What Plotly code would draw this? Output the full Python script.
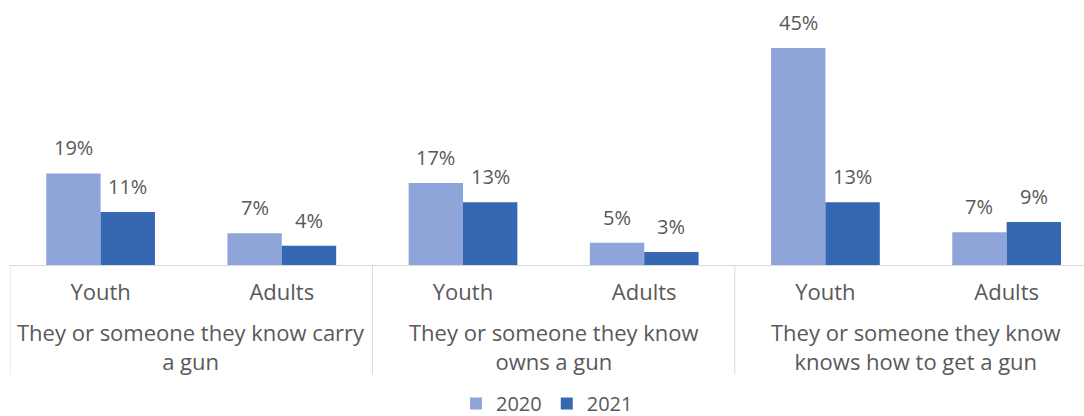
import plotly.graph_objects as go

subgroups = ["Youth", "Adults", "Youth", "Adults", "Youth", "Adults"]
groups = ["They or someone they know carry<br>a gun",
          "They or someone they know<br>owns a gun",
          "They or someone they know<br>knows how to get a gun"]
series_names = ["2020", "2021"]
values_2020 = [19, 6.6, 17, 4.6, 45, 6.8]
values_2021 = [11, 4, 13, 2.7, 13, 8.9]

colors = ["#8FA5DA", "#3567B3"]
gray = "#595959"
FONT = "Open Sans"
FS = 20
FS_CAT = 22

x_idx = list(range(len(subgroups)))
fig = go.Figure()
offsets = [-0.3, 0.0]
for name, vals, col, off in zip(series_names, [values_2020, values_2021], colors, offsets):
    fig.add_trace(go.Bar(
        x=x_idx, y=vals, name=name, marker=dict(color=col, line=dict(width=0)),
        width=0.3, offset=off,
    ))
    for xi, v in zip(x_idx, vals):
        fig.add_annotation(x=xi + off + 0.15, y=v, xref="x", yref="y",
                           text=f"{v:.0f}%", showarrow=False, yanchor="bottom",
                           yshift=10, font=dict(family=FONT, size=FS, color=gray))

# group labels and dividers
for gi, g in enumerate(groups):
    fig.add_annotation(x=gi * 2 + 0.5, y=-0.34, xref="x", yref="paper", text=g,
                       showarrow=False, yanchor="middle",
                       font=dict(family=FONT, size=FS_CAT, color=gray))
    fig.add_shape(type="line", xref="x", yref="paper", x0=gi * 2 - 0.5, x1=gi * 2 - 0.5,
                  y0=0, y1=-0.456, line=dict(color="#D9D9D9", width=1))

fig.update_layout(
    width=1084, height=416,
    margin=dict(l=10, r=0, t=24, b=151, autoexpand=False),
    plot_bgcolor="white", paper_bgcolor="white",
    barmode="overlay",
    showlegend=True,
    legend=dict(orientation="h", x=0.5, xanchor="center", xref="paper",
                y=0.03, yanchor="middle", yref="container",
                font=dict(family=FONT, size=FS, color=gray), itemwidth=30,
                traceorder="normal"),
    font=dict(family=FONT, size=FS, color=gray),
)
fig.update_xaxes(range=[-0.5, 5.427], tickvals=x_idx, ticktext=subgroups,
                 showline=True, linecolor="#D9D9D9", linewidth=1, ticks="",
                 showgrid=False, zeroline=False, automargin=False,
                 tickfont=dict(family=FONT, size=FS_CAT, color=gray), ticklabelstandoff=8)
fig.update_yaxes(range=[0, 50], visible=False, showgrid=False)

fig.write_html("out.html")
